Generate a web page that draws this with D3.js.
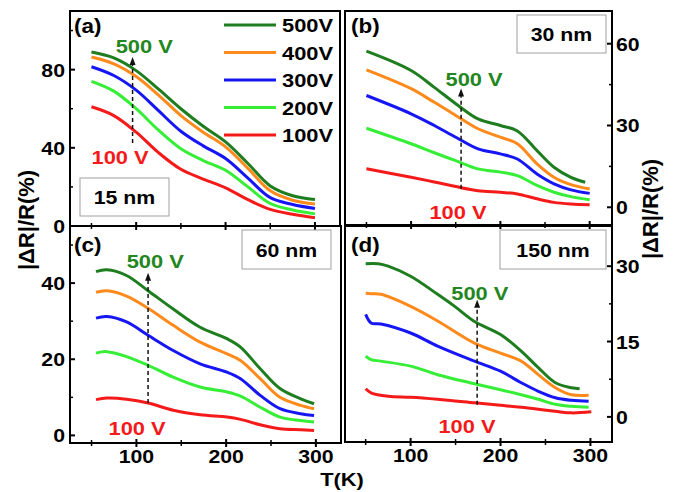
<!DOCTYPE html>
<html>
<head>
<meta charset="utf-8">
<script src="https://cdn.jsdelivr.net/npm/d3@7"></script>
<style>
  body { margin: 0; background: #fff; }
  text { font-family: Arial, "Liberation Sans", sans-serif; font-weight: bold; }
</style>
</head>
<body>
<div id="chart"></div>
<script>
// voltages, top to bottom in the legend
var voltages = ["500V", "400V", "300V", "200V", "100V"];
var colors = ["#1e7d1e", "#ff8a1c", "#1616f5", "#36ee36", "#f51a1a"];

// (a) 15 nm
var tA = [50, 75, 100, 125, 150, 175, 200, 225, 250, 275, 300];
var a500 = [89, 86, 79.5, 70, 60, 51, 43, 32, 20.5, 15.5, 13.5];
var a400 = [86.5, 83, 76.5, 67, 56.5, 48, 40.5, 29.5, 18, 13.2, 11.2];
var a300 = [81.5, 77, 69.5, 59, 48.5, 41, 34.5, 24.5, 14.5, 11, 9];
var a200 = [74, 69, 60, 49, 39.5, 33.5, 28.5, 20, 11.5, 8.2, 6.2];
var a100 = [61, 56.5, 48, 37.5, 29, 24, 19.5, 13.5, 8.5, 6, 4.2];

// (b) 30 nm
var tB = [50, 100, 126, 150, 175, 200, 219, 241, 260, 279, 300];
var tB500 = [50, 100, 126, 150, 175, 200, 219, 241, 260, 279, 295];
var b500 = [57.3, 50.2, 44, 38, 32.4, 30, 28, 20.8, 14.7, 11, 9.2];
var b400 = [50.4, 43.5, 38.5, 33.7, 28.8, 25.7, 23.3, 15.9, 11, 8.3, 6.7];
var b300 = [41, 34.3, 30, 25.7, 21.4, 19.6, 17.7, 12.2, 8.6, 6.4, 5.1];
var b200 = [29, 23.3, 20, 17.1, 14.1, 12.9, 11.6, 8, 5.5, 3.9, 2.8];
var b100 = [14.1, 11, 9.3, 7.6, 6.1, 5.5, 4.9, 3.1, 1.8, 1.2, 0.9];

// (c) 60 nm
var tC = [55, 67, 89, 113, 141, 171, 201, 216, 238, 260, 283, 298];
var c500 = [43, 43.5, 42, 38, 33.2, 28.4, 25.4, 23.2, 17.5, 12.3, 9.6, 8.3];
var c400 = [37.6, 38, 36.6, 33.4, 28.9, 24.5, 21.4, 19.7, 14.9, 10, 7.9, 7];
var c300 = [30.8, 31.2, 29.8, 26.3, 22.3, 18.8, 16.6, 14.9, 10.5, 7, 5.7, 5.2];
var c200 = [21.6, 22, 20.7, 18.4, 15.3, 12.7, 11.4, 10.3, 7.4, 4.8, 3.9, 3.5];
var c100 = [9.4, 9.8, 9.5, 8.5, 6.6, 5.4, 4.8, 4.2, 2.8, 1.75, 1.5, 1.3];

// (d) 150 nm
var tD500 = [50, 64, 75, 100, 130, 149, 171, 200, 223, 242, 261, 279, 288];
var d500 = [30.5, 30.5, 30, 28, 24.4, 22, 19, 16.4, 13.1, 9.8, 6.8, 5.8, 5.6];
var tD = [50, 56, 67, 100, 130, 171, 200, 223, 242, 261, 279, 298];
var d400 = [24.6, 24.5, 24.4, 22, 19.1, 14.7, 12.7, 11.1, 8.4, 5.8, 4.4, 4.3];
var d300 = [20.4, 18.7, 18.5, 16.7, 14.1, 11.1, 9.1, 6.8, 5.1, 3.8, 3.3, 3.1];
var d200 = [12.1, 11.4, 11.1, 10.1, 8.4, 6.6, 5.4, 4.4, 3.5, 2.5, 2.1, 1.9];
var tD100 = [50, 56, 75, 100, 130, 171, 200, 223, 261, 279, 301];
var d100 = [5.6, 4.8, 4.1, 3.9, 3.5, 2.8, 2.3, 1.9, 1.1, 0.8, 1.0];

var thickness = ["15 nm", "30 nm", "60 nm", "150 nm"];
var panelTags = ["(a)", "(b)", "(c)", "(d)"];
// dashed arrow: T, from value, to value
var arrowT = [96, 156, 113, 174];
var arrowLo = [42.5, 6.8, 8.5, 2.4];
var arrowHi = [86.5, 43.6, 42.7, 23.3];
// "500 V" / "100 V" annotation positions (T, value)
var hiLabel = [[109, 88.5], [170.5, 44.4], [121, 44], [177, 23.3]];
var loLabel = [[82, 31.7], [152.5, -4.3], [100.7, 0.1], [162.7, -3.2]];

var svg = d3.select("#chart").append("svg")
    .attr("width", 683)
    .attr("height", 492);

var SX = 1.15;   // the figure's text is a bit wide

function label(g, x, y, txt, size, anchor, color) {
  return g.append("text")
    .attr("transform", `translate(${x},${y}) scale(${SX},1)`)
    .attr("text-anchor", anchor || "start")
    .attr("font-size", size + "px")
    .attr("fill", color || "#000")
    .text(txt);
}

var panels = [
  { x0: 70, x1: 340, y0: 11, y1: 226, xd: [26, 328], yd: [0, 110], major: [0, 40, 80], minor: [20, 60, 100], side: "left", xlab: false,
    series: [[tA, a500], [tA, a400], [tA, a300], [tA, a200], [tA, a100]], box: [80, 178, 89, 38] },
  { x0: 345, x1: 612, y0: 11, y1: 225, xd: [26, 325], yd: [-6.5, 72], major: [0, 30, 60], minor: [15, 45], side: "right", xlab: false,
    series: [[tB500, b500], [tB, b400], [tB, b300], [tB, b200], [tB, b100]], box: [517, 15, 89, 38] },
  { x0: 70, x1: 341, y0: 226, y1: 443, xd: [26, 328], yd: [-2, 55], major: [0, 20, 40], minor: [10, 30, 50], side: "left", xlab: true,
    series: [[tC, c500], [tC, c400], [tC, c300], [tC, c200], [tC, c100]], box: [242, 230, 89, 39] },
  { x0: 345, x1: 612, y0: 226, y1: 442, xd: [27, 324], yd: [-5, 38], major: [0, 15, 30], minor: [7.5, 22.5], side: "right", xlab: true,
    series: [[tD500, d500], [tD, d400], [tD, d300], [tD, d200], [tD100, d100]], box: [500, 230, 106, 39] }
];

panels.forEach(function(p, i) {
  var g = svg.append("g");
  var x = d3.scaleLinear().domain(p.xd).range([p.x0, p.x1]);
  var y = d3.scaleLinear().domain(p.yd).range([p.y1, p.y0]);

  // curves
  var line = d3.line().curve(d3.curveCatmullRom.alpha(0.5));
  p.series.forEach(function(s, k) {
    var pts = s[0].map(function(t, j) { return [x(t), y(s[1][j])]; });
    g.append("path")
      .attr("d", line(pts))
      .attr("fill", "none")
      .attr("stroke", colors[k])
      .attr("stroke-width", 3)
      .attr("stroke-linejoin", "round");
  });

  // frame
  g.append("rect")
    .attr("x", p.x0).attr("y", p.y0)
    .attr("width", p.x1 - p.x0).attr("height", p.y1 - p.y0)
    .attr("fill", "none").attr("stroke", "#000").attr("stroke-width", 2);

  // x ticks (cross the frame)
  [100, 200, 300].forEach(function(t) {
    g.append("line").attr("x1", x(t)).attr("x2", x(t))
      .attr("y1", p.y1 - 4).attr("y2", p.y1 + 4)
      .attr("stroke", "#000").attr("stroke-width", 2);
    if (p.xlab) label(g, x(t), p.y1 + 20, t, 18.5, "middle");
  });
  [50, 150, 250].forEach(function(t) {
    g.append("line").attr("x1", x(t)).attr("x2", x(t))
      .attr("y1", p.y1 - 3).attr("y2", p.y1 + 3)
      .attr("stroke", "#000").attr("stroke-width", 1.5);
  });

  // y ticks (inward)
  var xe = p.side === "left" ? p.x0 : p.x1;
  var dir = p.side === "left" ? 1 : -1;
  p.major.forEach(function(v) {
    g.append("line").attr("x1", xe).attr("x2", xe + dir * 5)
      .attr("y1", y(v)).attr("y2", y(v))
      .attr("stroke", "#000").attr("stroke-width", 2);
    if (p.side === "left") label(g, xe - 5, y(v) + 7, v, 18.5, "end");
    else label(g, xe + 4, y(v) + 7, v, 18.5, "start");
  });
  p.minor.forEach(function(v) {
    g.append("line").attr("x1", xe).attr("x2", xe + dir * 3)
      .attr("y1", y(v)).attr("y2", y(v))
      .attr("stroke", "#000").attr("stroke-width", 1.5);
  });

  // thickness box
  g.append("rect")
    .attr("x", p.box[0]).attr("y", p.box[1])
    .attr("width", p.box[2]).attr("height", p.box[3])
    .attr("fill", "#fff").attr("stroke", "#a0a0a0").attr("stroke-width", 1);
  label(g, p.box[0] + p.box[2] / 2, p.box[1] + p.box[3] / 2 + 7, thickness[i], 18.5, "middle");

  // panel tag
  label(g, p.x0 + (p.side === "left" ? 4 : 6), p.y0 + (i < 2 ? 22 : 26), panelTags[i], 19.5, "start");

  // dashed arrow
  var ax = x(arrowT[i]);
  g.append("line")
    .attr("x1", ax).attr("x2", ax)
    .attr("y1", y(arrowLo[i])).attr("y2", y(arrowHi[i]) + 6)
    .attr("stroke", "#111").attr("stroke-width", 1.5)
    .attr("stroke-dasharray", "4,3");
  var ty = y(arrowHi[i]);
  g.append("path")
    .attr("d", `M${ax},${ty} L${ax - 3},${ty + 8} L${ax + 3},${ty + 8} Z`)
    .attr("fill", "#111");

  label(g, x(hiLabel[i][0]), y(hiLabel[i][1]), "500 V", 19, "middle", "#23861e");
  label(g, x(loLabel[i][0]), y(loLabel[i][1]), "100 V", 19, "middle", "#f51a1a");
});

// legend in panel (a)
var legendY = d3.scalePoint().domain(voltages).range([25, 135]);
voltages.forEach(function(v, k) {
  svg.append("line")
    .attr("x1", 224).attr("x2", 276)
    .attr("y1", legendY(v)).attr("y2", legendY(v))
    .attr("stroke", colors[k]).attr("stroke-width", 3);
  label(svg, 282, legendY(v) + 7, v, 19, "start");
});

// axis titles
svg.append("text")
  .attr("transform", "translate(34,220) rotate(-90)")
  .attr("text-anchor", "middle")
  .attr("font-size", "22px")
  .text("|ΔR|/R(%)");

svg.append("text")
  .attr("transform", "translate(658,209) rotate(-90)")
  .attr("text-anchor", "middle")
  .attr("font-size", "22px")
  .text("|ΔR|/R(%)");

label(svg, 342, 486, "T(K)", 19, "middle");
</script>
</body>
</html>
